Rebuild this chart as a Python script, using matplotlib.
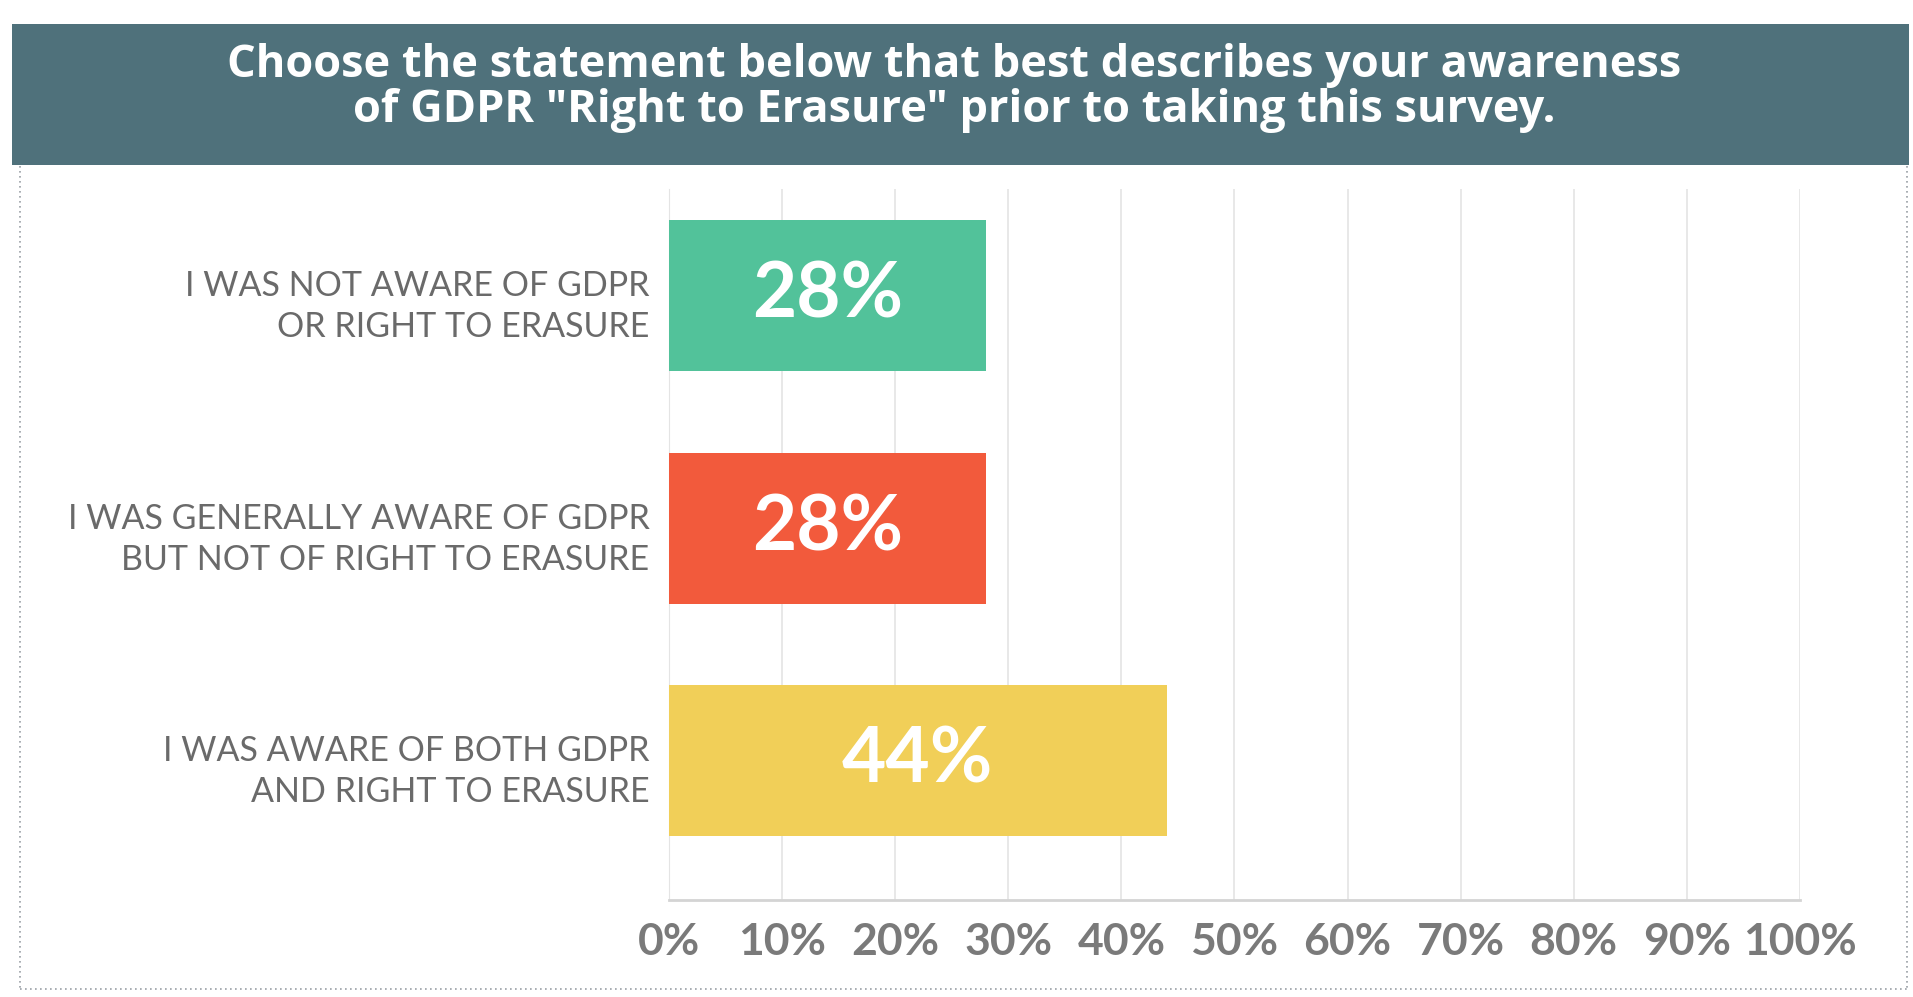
import matplotlib
matplotlib.use("Agg")
import matplotlib.pyplot as plt
from matplotlib.patches import Rectangle
from matplotlib.lines import Line2D

# data
categories = ["I WAS NOT AWARE OF GDPR\nOR RIGHT TO ERASURE",
              "I WAS GENERALLY AWARE OF GDPR\nBUT NOT OF RIGHT TO ERASURE",
              "I WAS AWARE OF BOTH GDPR\nAND RIGHT TO ERASURE"]
values = [28, 28, 44]
bar_colors = ["#52c29a", "#f25a3c", "#f1cf58"]
xticks = list(range(0, 101, 10))
xtick_labels = [f"{t}%" for t in xticks]
title = 'Choose the statement below that best describes your awareness\nof GDPR "Right to Erasure" prior to taking this survey.'

fig = plt.figure(figsize=(19.13, 9.97), dpi=100)
fig.patch.set_facecolor("white")

# header band
fig.add_artist(Rectangle((0.0063, 0.8345), 0.9917, 0.1415, transform=fig.transFigure,
                         facecolor="#4f717b", edgecolor="none", zorder=0))
fig.text(0.4987, 0.912, title, ha="center", va="center", color="white",
         fontsize=32.5, fontweight="bold", family="Open Sans", linespacing=1.0)

# dotted frame around the chart
for xs, ys in [([0.0105, 0.0105], [0.834, 0.008]),
               ([0.0105, 0.997], [0.008, 0.008]),
               ([0.997, 0.997], [0.834, 0.008])]:
    fig.add_artist(Line2D(xs, ys, transform=fig.transFigure, color="#9aa0a6",
                          lw=1.2, linestyle=(0, (1, 2))))

ax = fig.add_axes([0.3497, 0.0973, 0.5912, 0.7131])
ypos = list(range(len(categories)))
ax.barh(ypos, values, height=0.65, color=bar_colors, zorder=3)
for y, v in zip(ypos, values):
    ax.text(v / 2, y, f"{v}%", ha="center", va="center", color="white",
            fontsize=55, fontweight="bold", family="Lato", zorder=4)

ax.set_xlim(0, 100)
ax.set_ylim(2.6, -0.46)
ax.set_xticks(xticks)
ax.set_xticklabels(xtick_labels, fontsize=32, fontweight="bold", family="Lato", color="#7a7a7a")
ax.set_yticks([y + 0.015 for y in ypos])
ax.set_yticklabels(categories, fontsize=24.5, family="Lato", color="#6a6a6a", linespacing=1.35)
ax.tick_params(axis="x", length=0, pad=16)
ax.tick_params(axis="y", length=0, pad=14)
ax.grid(axis="x", color="#e4e4e4", lw=1.2, zorder=0)
for s in ["top", "right"]:
    ax.spines[s].set_visible(False)
ax.spines["left"].set_color("#e4e4e4")
ax.spines["bottom"].set_color("#d4d4d4")
ax.spines["bottom"].set_linewidth(2)

fig.savefig("out.png", dpi=100)
